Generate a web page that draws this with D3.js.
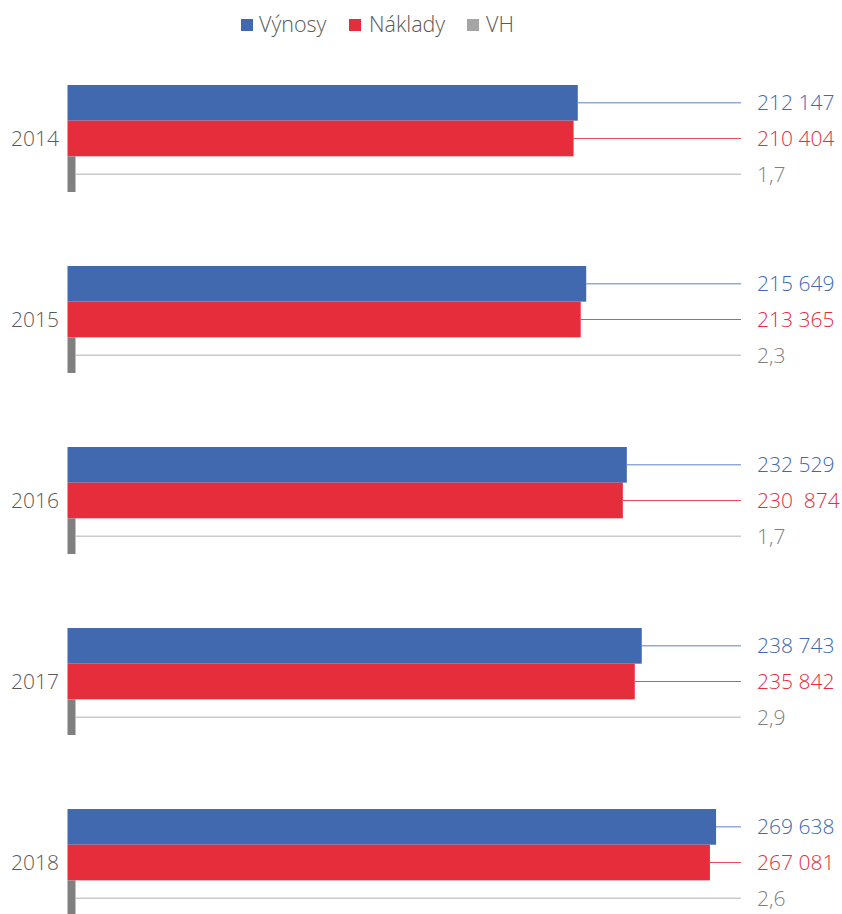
<!DOCTYPE html><html lang="cs">
<head>
  <meta charset="UTF-8">
  <title>Výnosy a náklady</title>
  <script src="https://d3js.org/d3.v7.min.js"></script>
  <style>
    body {
      margin: 0;
      background: white;
      font-family: "Open Sans", sans-serif;
      font-weight: 300;
    }
    .year { font-size: 21px; fill: #595959; }
    .legend text { font-size: 21.5px; fill: #595959; }
    .val { font-size: 21px; white-space: pre; }
  </style>
</head>
<body>
<svg width="842" height="914"></svg>
<script>
const years = ["2014", "2015", "2016", "2017", "2018"];
const vynosy = [212147, 215649, 232529, 238743, 269638];
const naklady = [210404, 213365, 230874, 235842, 267081];
const vh = [1.7, 2.3, 1.7, 2.9, 2.6];

const series = [
  { key: "Výnosy", values: vynosy, color: "#4169b0", line: "#5b80c2", text: "#4169b0" },
  { key: "Náklady", values: naklady, color: "#e52d3c", line: "#e94b58", text: "#e52d3c" },
  { key: "VH", values: vh, color: "#808080", line: "#b0b0b0", text: "#808080", legend: "#a5a5a5" }
];

const svg = d3.select("svg");

const x = d3.scaleLinear().domain([0, 280000]).range([67.5, 741]);
// VH is tiny next to the others, draw it with a minimum visible width
const vhMinWidth = 8;

const y = d3.scaleBand().domain(years).range([85, 916]).paddingInner(0.409).paddingOuter(0);
const ySub = d3.scaleBand().domain(series.map(s => s.key)).range([0, y.bandwidth()]);

const cz = d3.formatLocale({ decimal: ",", thousands: " ", grouping: [3], currency: ["", ""] });
const fmtBig = cz.format(",d");
const fmtVh = cz.format(".1f");

// legend
const legendItems = [
  { x: 241, textX: 259 },
  { x: 349, textX: 369 },
  { x: 467, textX: 486 }
];
const legend = svg.append("g").attr("class", "legend");
series.forEach((s, i) => {
  legend.append("rect")
    .attr("x", legendItems[i].x).attr("y", 19)
    .attr("width", 12).attr("height", 12)
    .attr("fill", s.legend || s.color);
  legend.append("text")
    .attr("x", legendItems[i].textX).attr("y", 32)
    .text(s.key);
});

const g = svg.append("g");

years.forEach((yr, i) => {
  const grp = g.append("g").attr("transform", `translate(0,${y(yr)})`);

  series.forEach(s => {
    const v = s.values[i];
    const y0 = ySub(s.key);
    const h = ySub.bandwidth();
    const xEnd = s.key === "VH" ? x(0) + vhMinWidth : x(v);

    grp.append("rect")
      .attr("x", x(0))
      .attr("y", y0)
      .attr("width", xEnd - x(0))
      .attr("height", h)
      .attr("fill", s.color);

    grp.append("line")
      .attr("x1", xEnd).attr("x2", x.range()[1])
      .attr("y1", y0 + h / 2).attr("y2", y0 + h / 2)
      .attr("stroke", s.line)
      .attr("stroke-width", 1);

    let label = s.key === "VH" ? fmtVh(v) : fmtBig(v);
    if (label === "230 874") label = "230  874";
    grp.append("text")
      .attr("class", "val")
      .attr("x", 757)
      .attr("y", y0 + h / 2)
      .attr("dy", "0.36em")
      .attr("fill", s.text)
      .text(label);
  });

  grp.append("text")
    .attr("class", "year")
    .attr("x", 59)
    .attr("y", ySub("Náklady") + ySub.bandwidth() / 2)
    .attr("dy", "0.36em")
    .attr("text-anchor", "end")
    .text(yr);
});
</script>
</body>
</html>
